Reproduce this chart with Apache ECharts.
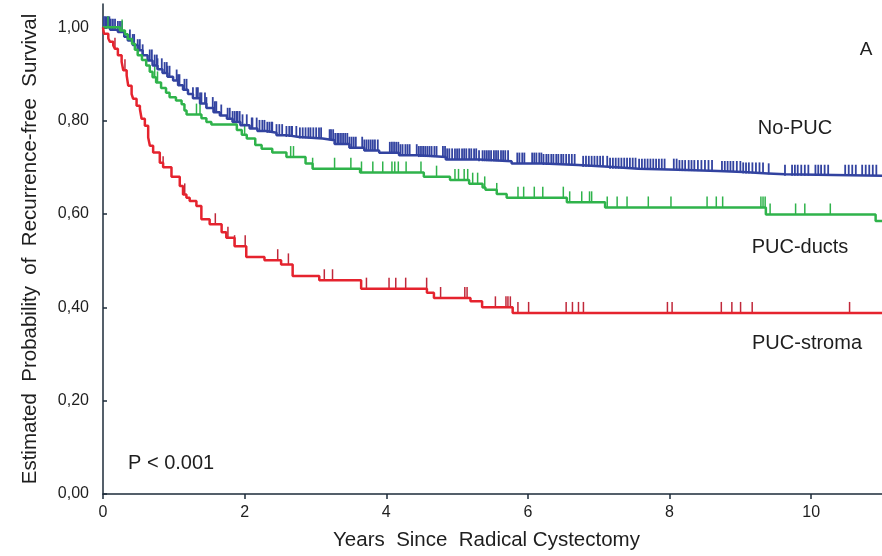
<!DOCTYPE html>
<html>
<head>
<meta charset="utf-8">
<script src="https://cdn.jsdelivr.net/npm/echarts@6/dist/echarts.min.js"></script>
<style>
html, body { margin: 0; padding: 0; background: #fff; }
#main { width: 882px; height: 556px; }
</style>
</head>
<body>
<div id="main"></div>
<script>
// step points of each Kaplan-Meier curve (years, survival)
const noPucTimes = [0, 0.10, 0.21, 0.30, 0.35, 0.42, 0.49, 0.56, 0.63, 0.70, 0.77, 0.84, 0.91, 0.99, 1.06, 1.13, 1.20, 1.27, 1.37, 1.46, 1.56, 1.65, 1.75, 1.83, 1.94, 2.07, 2.18, 2.31, 2.45, 2.59, 2.77, 3.10, 3.27, 3.48, 3.69, 3.90, 4.18, 4.46, 4.84, 5.31, 5.77, 6.22, 6.71, 7.14, 7.56, 8.12, 8.68, 9.04, 9.39, 9.63]
const noPucSurv = [1.0, 0.995, 0.99, 0.98, 0.972, 0.962, 0.951, 0.94, 0.929, 0.918, 0.91, 0.902, 0.894, 0.886, 0.876, 0.866, 0.857, 0.848, 0.837, 0.827, 0.818, 0.811, 0.804, 0.797, 0.79, 0.783, 0.778, 0.774, 0.769, 0.765, 0.762, 0.758, 0.75, 0.742, 0.736, 0.731, 0.726, 0.722, 0.717, 0.713, 0.708, 0.705, 0.701, 0.697, 0.695, 0.692, 0.69, 0.687, 0.685, 0.682]

const ductsTimes = [0, 0.24, 0.31, 0.35, 0.41, 0.45, 0.49, 0.55, 0.61, 0.66, 0.70, 0.75, 0.82, 0.89, 0.94, 1.03, 1.11, 1.15, 1.18, 1.39, 1.46, 1.53, 1.89, 1.96, 2.03, 2.15, 2.24, 2.39, 2.59, 2.86, 2.96, 3.63, 4.53, 4.90, 5.17, 5.36, 5.40, 5.56, 5.70, 6.55, 7.09, 9.36, 10.91]
const ductsSurv = [1.0, 0.993, 0.985, 0.975, 0.965, 0.952, 0.94, 0.93, 0.918, 0.905, 0.893, 0.882, 0.87, 0.86, 0.85, 0.843, 0.835, 0.822, 0.813, 0.805, 0.797, 0.792, 0.78, 0.77, 0.762, 0.748, 0.74, 0.732, 0.722, 0.708, 0.697, 0.689, 0.68, 0.673, 0.665, 0.657, 0.652, 0.643, 0.635, 0.625, 0.614, 0.599, 0.585]

const stromaTimes = [0, 0.014, 0.075, 0.099, 0.145, 0.169, 0.21, 0.263, 0.286, 0.334, 0.356, 0.404, 0.426, 0.474, 0.521, 0.545, 0.591, 0.638, 0.662, 0.708, 0.802, 0.849, 0.967, 1.084, 1.130, 1.178, 1.224, 1.319, 1.389, 1.506, 1.675, 1.741, 1.858, 2.023, 2.280, 2.515, 2.678, 3.054, 3.645, 4.574, 4.673, 5.189, 5.353, 5.785]
const stromaSurv = [1.0, 0.986, 0.976, 0.969, 0.961, 0.954, 0.94, 0.926, 0.908, 0.897, 0.875, 0.857, 0.847, 0.832, 0.825, 0.804, 0.789, 0.764, 0.746, 0.732, 0.71, 0.70, 0.68, 0.66, 0.642, 0.635, 0.628, 0.617, 0.589, 0.578, 0.561, 0.549, 0.531, 0.508, 0.501, 0.492, 0.467, 0.458, 0.44, 0.431, 0.42, 0.413, 0.40, 0.388]

// censored observations (years)
const noPucCensor = [0.01, 0.03, 0.05, 0.07, 0.09, 0.11, 0.14, 0.17, 0.21, 0.24, 0.27, 0.38, 0.42, 0.44, 0.49, 0.52, 0.56, 0.66, 0.69, 0.73, 0.76, 0.77, 0.83, 0.87, 0.90, 0.91, 0.94, 1.04, 1.06, 1.08, 1.15, 1.18, 1.27, 1.32, 1.34, 1.37, 1.39, 1.44, 1.46, 1.55, 1.58, 1.60, 1.67, 1.76, 1.79, 1.83, 1.86, 1.89, 1.90, 1.93, 1.97, 2.03, 2.10, 2.11, 2.17, 2.21, 2.25, 2.28, 2.32, 2.35, 2.38, 2.39, 2.45, 2.49, 2.53, 2.59, 2.63, 2.66, 2.67, 2.73,
  2.78, 2.82, 2.86, 2.90, 2.93, 2.97, 3.01, 3.05, 3.08,
  3.20, 3.22, 3.25, 3.28, 3.31, 3.33, 3.36, 3.39, 3.42, 3.45, 3.48, 3.51, 3.54, 3.57,
  3.66, 3.69, 3.72, 3.75, 3.78, 3.81, 3.84, 3.88,
  4.05, 4.08, 4.11, 4.14, 4.17, 4.20, 4.23, 4.27, 4.30, 4.33,
  4.43, 4.46, 4.49, 4.52, 4.55, 4.58, 4.61, 4.64, 4.68, 4.71,
  4.80, 4.83, 4.86, 4.89, 4.93, 4.97, 5.00, 5.03, 5.07, 5.10, 5.13, 5.17, 5.20, 5.24, 5.27, 5.31,
  5.36, 5.39, 5.42, 5.45, 5.48, 5.52, 5.55, 5.58, 5.62, 5.65, 5.68, 5.72,
  5.85, 5.88, 5.92, 5.95,
  6.06, 6.09, 6.12, 6.16, 6.19, 6.22, 6.26, 6.29, 6.33, 6.36, 6.40, 6.43, 6.47, 6.50, 6.54, 6.58, 6.62, 6.66,
  6.78, 6.82, 6.86, 6.90, 6.94, 6.98, 7.02, 7.06,
  7.12, 7.16, 7.20, 7.24, 7.28, 7.32, 7.36, 7.40, 7.44, 7.48, 7.52, 7.57, 7.61, 7.65, 7.69, 7.73, 7.77, 7.81, 7.85, 7.89, 7.93,
  8.06, 8.10, 8.14, 8.18, 8.22, 8.27, 8.31, 8.35, 8.40, 8.45, 8.50, 8.55, 8.60,
  8.74, 8.78, 8.82, 8.86, 8.90, 8.95, 9.00, 9.04, 9.08, 9.12, 9.17, 9.22, 9.27, 9.32,
  9.40, 9.63,
  9.73, 9.77, 9.81, 9.86, 9.91, 9.96,
  10.06, 10.10, 10.14, 10.19, 10.24,
  10.48, 10.53, 10.58, 10.63,
  10.72, 10.77, 10.82, 10.87, 10.92]
const ductsCensor = [0.07, 0.27, 0.73, 0.77, 1.32, 1.37, 2.00, 2.65, 2.69, 2.96, 3.27, 3.50, 3.65, 3.81, 3.95, 4.08, 4.12, 4.17, 4.28, 4.49, 4.71, 4.97, 5.02, 5.10, 5.15, 5.22, 5.29, 5.39, 5.56, 5.86, 5.94, 6.09, 6.21, 6.50, 6.59, 6.76, 6.87, 6.90, 7.12, 7.26, 7.40, 7.70, 8.02, 8.53, 8.66, 8.75, 9.29, 9.32, 9.35, 9.42, 9.78, 9.91, 10.27]
const stromaCensor = [0.169, 0.31, 0.849, 1.154, 1.586, 1.764, 1.858, 2.008, 2.467, 2.618, 3.125, 3.241, 3.720, 4.039, 4.134, 4.274, 4.570, 4.767, 5.109, 5.141, 5.541, 5.690, 5.718, 5.752, 5.859, 6.010, 6.540, 6.629, 6.714, 6.784, 7.970, 8.036, 8.731, 8.880, 9.003, 9.167, 10.542]

const xTicks = [0, 2, 4, 6, 8, 10]
const yTicks = [0, 0.2, 0.4, 0.6, 0.8, 1.0]
const xMax = 11

const font = 'Liberation Sans'
const blue = '#3243a0'
const green = '#2fb34b'
const red = '#e5232e'

//把阶梯点变成折线数据，最后延长到右边
function curveData(times, surv){
    let arr = []
    for(let i = 0; i < times.length; i++){
        arr.push([times[i], surv[i]])
    }
    arr.push([xMax, surv[surv.length - 1]])
    return arr
}
//某个时间点的生存率
function survAt(times, surv, t){
    let s = surv[0]
    for(let i = 0; i < times.length; i++){
        if(times[i] <= t) s = surv[i]
    }
    return s
}
function censorData(censor, times, surv){
    return censor.map(t => [t, survAt(times, surv, t)])
}
function censorSeries(data, color, w){
    return {
        type: 'custom',
        clip: true,
        silent: true,
        data: data,
        renderItem: function(params, api){
            let p = api.coord([api.value(0), api.value(1)])
            return {
                type: 'line',
                shape: { x1: p[0], y1: p[1], x2: p[0], y2: p[1] - 11 },
                style: { stroke: color, lineWidth: w }
            }
        }
    }
}
function lineSeries(data, color){
    return {
        type: 'line',
        step: 'end',
        data: data,
        symbol: 'none',
        silent: true,
        lineStyle: { color: color, width: 2.5 }
    }
}

var myChart = echarts.init(document.getElementById('main'))

var option = {
    backgroundColor: '#fff',
    animation: false,
    grid: { left: 103, right: -3, top: 4, bottom: 62 },
    xAxis: {
        type: 'value',
        min: 0,
        max: xMax,
        name: 'Years  Since  Radical Cystectomy',
        nameLocation: 'middle',
        nameGap: 36,
        nameTextStyle: { fontFamily: font, fontSize: 20.5, color: '#1e1e1e', padding: [0, 12, 0, 0] },
        splitLine: { show: false },
        axisLine: { lineStyle: { color: '#1c2b3a', width: 1.5 } },
        axisTick: { inside: false, length: 5, customValues: xTicks, lineStyle: { color: '#1c2b3a', width: 1.5 } },
        axisLabel: { customValues: xTicks, margin: 11, fontFamily: font, fontSize: 16, color: '#1e1e1e' }
    },
    yAxis: {
        type: 'value',
        min: 0,
        max: 1.05,
        name: 'Estimated  Probability  of  Recurrence-free  Survival',
        nameLocation: 'middle',
        nameGap: 62,
        nameRotate: 90,
        nameTextStyle: { fontFamily: font, fontSize: 20.5, color: '#1e1e1e' },
        splitLine: { show: false },
        axisLine: { show: true, lineStyle: { color: '#1c2b3a', width: 1.5 } },
        axisTick: { show: true, inside: true, length: 4, customValues: yTicks, lineStyle: { color: '#1c2b3a', width: 1.5 } },
        axisLabel: {
            customValues: yTicks,
            margin: 14,
            fontFamily: font,
            fontSize: 16,
            color: '#1e1e1e',
            formatter: v => v.toFixed(2).replace('.', ',')
        }
    },
    series: [
        lineSeries(curveData(noPucTimes, noPucSurv), blue),
        censorSeries(censorData(noPucCensor, noPucTimes, noPucSurv), blue, 1.8),
        lineSeries(curveData(ductsTimes, ductsSurv), green),
        censorSeries(censorData(ductsCensor, ductsTimes, ductsSurv), green, 1.5),
        lineSeries(curveData(stromaTimes, stromaSurv), red),
        censorSeries(censorData(stromaCensor, stromaTimes, stromaSurv), '#c0283a', 1.5)
    ],
    graphic: [
        { type: 'text', x: 866, y: 50, style: { text: 'A', font: '19px "Liberation Sans"', fill: '#1e1e1e', align: 'center', verticalAlign: 'middle' } },
        { type: 'text', x: 795, y: 128, style: { text: 'No-PUC', font: '20px "Liberation Sans"', fill: '#1e1e1e', align: 'center', verticalAlign: 'middle' } },
        { type: 'text', x: 800, y: 247, style: { text: 'PUC-ducts', font: '20px "Liberation Sans"', fill: '#1e1e1e', align: 'center', verticalAlign: 'middle' } },
        { type: 'text', x: 807, y: 343, style: { text: 'PUC-stroma', font: '20px "Liberation Sans"', fill: '#1e1e1e', align: 'center', verticalAlign: 'middle' } },
        { type: 'text', x: 128, y: 463, style: { text: 'P < 0.001', font: '20px "Liberation Sans"', fill: '#1e1e1e', align: 'left', verticalAlign: 'middle' } }
    ]
}
myChart.setOption(option)
</script>
</body>
</html>
